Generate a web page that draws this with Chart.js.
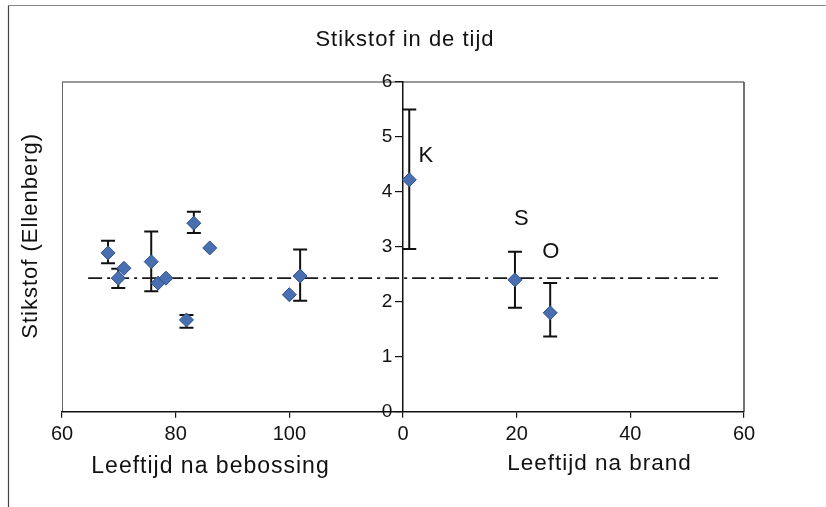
<!DOCTYPE html>
<html><head><meta charset="utf-8">
<script src="https://cdn.jsdelivr.net/npm/chart.js@4/dist/chart.umd.min.js"></script>
<style>html,body{margin:0;padding:0;background:#fff;} #wrap{width:826px;height:507px;position:relative;}</style>
</head><body><div id="wrap"><canvas id="c" width="826" height="507"></canvas></div>
<script>
// ---- data ----
const xTickLabels = ['60', '80', '100', '0', '20', '40', '60'];
const yTickValues = [0, 1, 2, 3, 4, 5, 6];
// left panel: years after afforestation ("Leeftijd na bebossing")
const bebossingAge  = [68.1, 69.9, 70.9, 75.7, 76.9, 78.3, 81.9, 83.2, 86.0, 100.0, 101.9];
const bebossingN    = [2.89, 2.43, 2.61, 2.73, 2.34, 2.43, 1.67, 3.43, 2.98, 2.13, 2.47];
const bebossingLow  = [2.70, 2.25, null, 2.19, null, null, 1.53, 3.25, null, null, 2.02];
const bebossingHigh = [3.11, 2.60, null, 3.28, null, null, 1.76, 3.64, null, null, 2.95];
// right panel: years after fire ("Leeftijd na brand")
const brandLabels = ['K', 'S', 'O'];
const brandAge  = [1.1, 19.7, 25.9];
const brandN    = [4.22, 2.40, 1.80];
const brandLow  = [2.96, 1.89, 1.37];
const brandHigh = [5.50, 2.91, 2.34];
// reference level (dash-dot line)
const referenceLevel = 2.43;
const referenceStartBebossing = 64.6;
const referenceEndBrand = 55.4;

// ---- combined axis: left half 60..120 (bebossing), right half 0..60 (brand) ----
const fromBebossing = v => (v - 60) / 20;
const fromBrand = a => 3 + a / 20;

const bebossingData = bebossingAge.map((v, i) => ({x: fromBebossing(v), y: bebossingN[i], lo: bebossingLow[i], hi: bebossingHigh[i]}));
const brandData = brandAge.map((a, i) => ({x: fromBrand(a), y: brandN[i], lo: brandLow[i], hi: brandHigh[i], label: brandLabels[i]}));
const refData = [{x: fromBebossing(referenceStartBebossing), y: referenceLevel}, {x: fromBrand(referenceEndBrand), y: referenceLevel}];

const FONT = '"Liberation Sans", Arial, Helvetica, sans-serif';

const errorBars = {
  id: 'errorBars',
  beforeDatasetsDraw(chart) {
    const ctx = chart.ctx, ys = chart.scales.y, xs = chart.scales.x;
    ctx.save();
    ctx.strokeStyle = '#111';
    ctx.lineWidth = 2;
    [0, 1].forEach(di => {
      chart.data.datasets[di].data.forEach(p => {
        if (p.lo == null || p.hi == null) return;
        const px = xs.getPixelForValue(p.x);
        const y1 = ys.getPixelForValue(p.lo), y2 = ys.getPixelForValue(p.hi);
        ctx.beginPath();
        ctx.moveTo(px, y1); ctx.lineTo(px, y2);
        ctx.moveTo(px - 7, y1); ctx.lineTo(px + 7, y1);
        ctx.moveTo(px - 7, y2); ctx.lineTo(px + 7, y2);
        ctx.stroke();
      });
    });
    ctx.restore();
  }
};

const frame = {
  id: 'frame',
  beforeDraw(chart) {
    const ctx = chart.ctx, a = chart.chartArea;
    ctx.save();
    // outer frame
    ctx.strokeStyle = '#444'; ctx.lineWidth = 1.2;
    ctx.beginPath(); ctx.moveTo(8.5, 5); ctx.lineTo(8.5, 507); ctx.stroke();
    ctx.strokeStyle = '#888'; ctx.lineWidth = 1;
    ctx.beginPath(); ctx.moveTo(8, 5.5); ctx.lineTo(826, 5.5); ctx.stroke();
    // plot area border
    ctx.strokeStyle = '#999'; ctx.lineWidth = 2;
    ctx.beginPath(); ctx.moveTo(a.left, a.top); ctx.lineTo(a.right, a.top); ctx.stroke();
    ctx.strokeStyle = '#666'; ctx.lineWidth = 1;
    ctx.beginPath(); ctx.moveTo(a.left + 0.5, a.top); ctx.lineTo(a.left + 0.5, a.bottom); ctx.stroke();
    ctx.strokeStyle = '#444'; ctx.lineWidth = 1.5;
    ctx.beginPath(); ctx.moveTo(a.right, a.top); ctx.lineTo(a.right, a.bottom); ctx.stroke();
    ctx.restore();
  }
};

const texts = {
  id: 'texts',
  afterDraw(chart) {
    const ctx = chart.ctx, a = chart.chartArea, xs = chart.scales.x, ys = chart.scales.y;
    ctx.save();
    ctx.fillStyle = '#111';
    ctx.textAlign = 'center';
    ctx.textBaseline = 'middle';
    try { ctx.letterSpacing = '1px'; } catch (e) {}
    ctx.font = '22px ' + FONT;
    ctx.fillText('Stikstof in de tijd', 405, 40);
    ctx.font = '23px ' + FONT;
    ctx.fillText('Leeftijd na bebossing', (xs.getPixelForValue(0) + xs.getPixelForValue(3)) / 2 - 22, 467);
    ctx.font = '22.5px ' + FONT;
    ctx.fillText('Leeftijd na brand', (xs.getPixelForValue(3) + xs.getPixelForValue(6)) / 2 + 26, 464);
    ctx.font = '22px ' + FONT;
    ctx.save();
    ctx.translate(31, (a.top + a.bottom) / 2 - 11);
    ctx.rotate(-Math.PI / 2);
    ctx.fillText('Stikstof (Ellenberg)', 0, 0);
    ctx.restore();
    // point labels K, S, O
    const offs = [[17, -24], [7, -61], [1, -61]];
    ctx.font = '22px ' + FONT;
    chart.data.datasets[1].data.forEach((p, i) => {
      const px = xs.getPixelForValue(p.x), py = ys.getPixelForValue(p.y);
      ctx.fillText(p.label, px + offs[i][0], py + offs[i][1]);
    });
    ctx.restore();
  }
};

new Chart(document.getElementById('c'), {
  type: 'scatter',
  data: {
    datasets: [
      {data: bebossingData, pointStyle: 'rectRot', pointRadius: 7, pointHoverRadius: 7,
       backgroundColor: '#4a6fb0', borderColor: '#2d4f8c', borderWidth: 1},
      {data: brandData, pointStyle: 'rectRot', pointRadius: 7, pointHoverRadius: 7,
       backgroundColor: '#4a6fb0', borderColor: '#2d4f8c', borderWidth: 1},
      {type: 'line', data: refData, borderColor: '#1a1a1a', borderWidth: 1.8, borderDash: [14, 5, 3, 5],
       pointRadius: 0, fill: false, order: 5}
    ]
  },
  options: {
    responsive: false,
    animation: false,
    events: [],
    layout: {padding: {left: 62, right: 82, top: 82, bottom: 0}},
    plugins: {legend: {display: false}, title: {display: false}, tooltip: {enabled: false}},
    scales: {
      x: {
        type: 'linear', min: 0, max: 6,
        afterFit: s => { s.height = 95.3; },
        ticks: {stepSize: 1, autoSkip: false, maxRotation: 0, padding: 5,
                callback: v => xTickLabels[Math.round(v)],
                font: {family: FONT, size: 20}, color: '#111'},
        grid: {display: true, drawOnChartArea: false, drawTicks: true, tickLength: 6, color: '#111', lineWidth: 1.2},
        border: {display: true, color: '#111', width: 1.5}
      },
      y: {
        type: 'linear', min: 0, max: 6, position: {x: 3},
        afterBuildTicks: s => { s.ticks = yTickValues.map(v => ({value: v})); },
        ticks: {font: {family: FONT, size: 19}, color: '#111',
                callback: v => String(v) + '\u2007'},
        grid: {display: true, drawOnChartArea: false, drawTicks: true, tickLength: 7, color: '#111', lineWidth: 1.2},
        border: {display: true, color: '#111', width: 1.5}
      }
    }
  },
  plugins: [frame, errorBars, texts]
});
</script>
</body></html>
